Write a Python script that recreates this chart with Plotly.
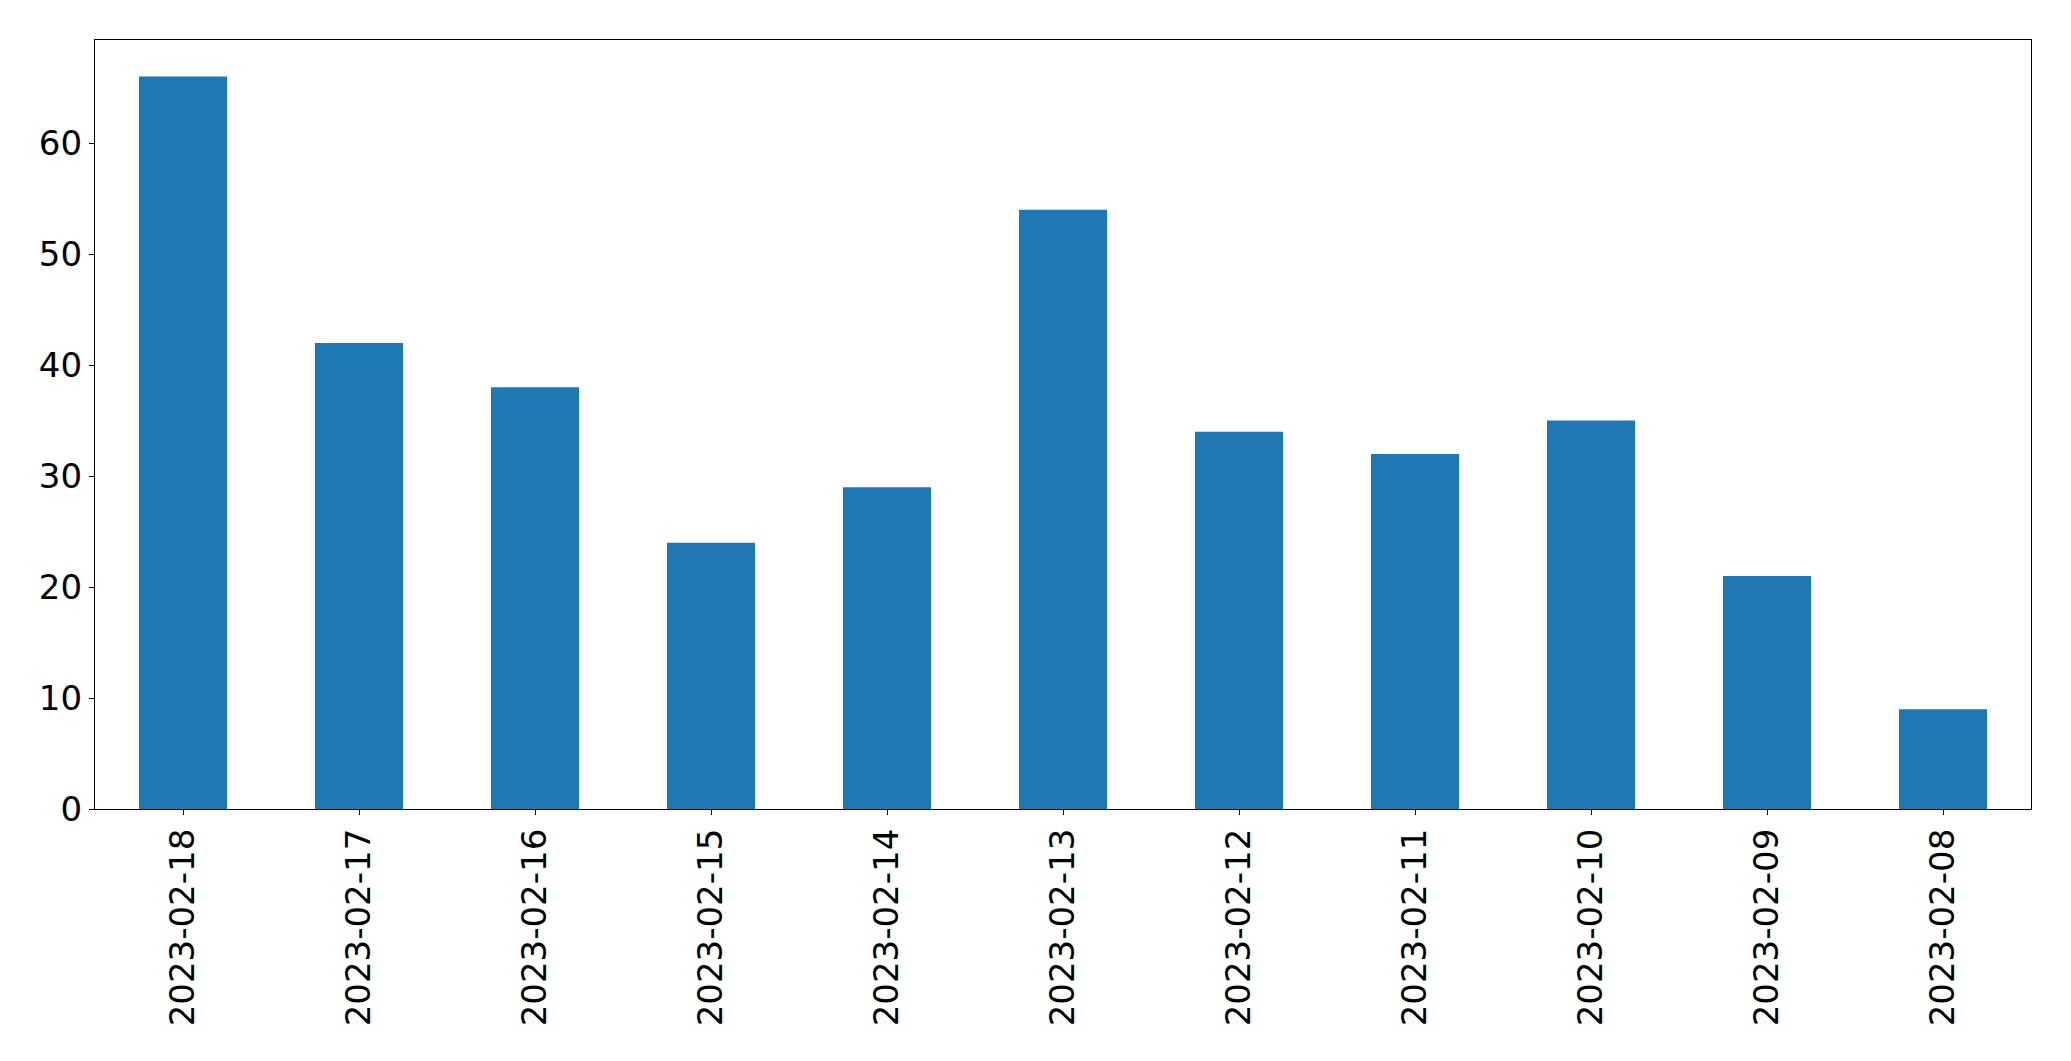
import plotly.graph_objects as go

dates = ["2023-02-18", "2023-02-17", "2023-02-16", "2023-02-15", "2023-02-14", "2023-02-13",
         "2023-02-12", "2023-02-11", "2023-02-10", "2023-02-09", "2023-02-08"]
counts = [66, 42, 38, 24, 29, 54, 34, 32, 35, 21, 9]
y_ticks = [0, 10, 20, 30, 40, 50, 60]

fig = go.Figure(go.Bar(x=dates, y=counts, marker=dict(color="#1f77b4", line=dict(width=0)), width=0.5))

# page body has an 8px default margin; compensate so the plot area lands where the reference has it
fig.update_layout(
    width=2063, height=1053,
    margin=dict(l=86.5, r=39.5, t=31.5, b=252),
    plot_bgcolor="white", paper_bgcolor="white",
    font=dict(family="DejaVu Sans", size=34, color="black"),
    showlegend=False,
    bargap=0.5,
)
fig.update_xaxes(
    type="category", range=[-0.5, len(dates) - 0.5],
    tickangle=-90, ticks="outside", ticklen=5, tickwidth=1.3, tickcolor="black",
    showline=True, mirror=True, linecolor="black", linewidth=1.3,
    showgrid=False, zeroline=False,
)
fig.update_yaxes(
    range=[0, 69.3], tickvals=y_ticks,
    ticks="outside", ticklen=5, tickwidth=1.3, tickcolor="black",
    showline=True, mirror=True, linecolor="black", linewidth=1.3,
    showgrid=False, zeroline=False,
)
fig.write_html("out.html")
